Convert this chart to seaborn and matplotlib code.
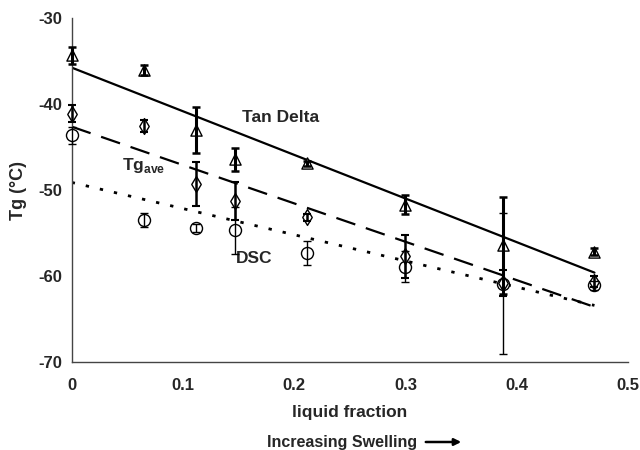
import matplotlib
matplotlib.use("Agg")
import matplotlib.pyplot as plt
import seaborn as sns
import numpy as np
import pandas as pd

# ---- data ----
liquid_fraction = [0.0, 0.065, 0.112, 0.147, 0.212, 0.300, 0.388, 0.470]
tan_delta = [-34.3, -36.0, -43.0, -46.4, -46.85, -51.7, -56.45, -57.2]
tan_delta_err = [1.0, 0.6, 2.7, 1.35, 0.3, 1.1, 5.6, 0.4]
tg_ave = [-41.1, -42.5, -49.3, -51.3, -53.15, -57.7, -60.85, -60.65]
tg_ave_err = [1.0, 0.7, 2.6, 2.2, 0.4, 2.5, 1.5, 0.6]
dsc = [-43.6, -53.5, -54.4, -54.7, -57.35, -58.9, -60.9, -61.1]
dsc_err = [1.0, 0.8, 0.5, 2.7, 1.4, 1.8, 8.2, 0.5]

x_ticks = [0, 0.1, 0.2, 0.3, 0.4, 0.5]
x_tick_labels = ["0", "0.1", "0.2", "0.3", "0.4", "0.5"]
y_ticks = [-70, -60, -50, -40, -30]
y_tick_labels = ["-70", "-60", "-50", "-40", "-30"]

sns.set_style("white")
plt.rcParams["font.family"] = ["Liberation Sans", "DejaVu Sans"]
plt.rcParams["mathtext.fontset"] = "custom"
plt.rcParams["mathtext.rm"] = "Liberation Sans:bold"
plt.rcParams["mathtext.bf"] = "Liberation Sans:bold"

fig = plt.figure(figsize=(6.4, 4.5), dpi=100)
ax = fig.add_axes([0.112, 0.196, 0.869, 0.763])

df = pd.DataFrame({"x": liquid_fraction, "tan": tan_delta, "ave": tg_ave, "dsc": dsc})

# trend lines (linear fits)
sns.regplot(data=df, x="x", y="tan", ax=ax, scatter=False, ci=None, truncate=True,
            line_kws=dict(color="black", lw=1.6, ls="-"))
sns.regplot(data=df, x="x", y="ave", ax=ax, scatter=False, ci=None, truncate=True,
            line_kws=dict(color="black", lw=1.6, ls=(0, (9, 5))))
sns.regplot(data=df, x="x", y="dsc", ax=ax, scatter=False, ci=None, truncate=True,
            line_kws=dict(color="black", lw=2.0, ls=(0, (1.2, 4))))

# markers
for col, mk, s, z in [("dsc", "o", 75, 4), ("ave", "d", 65, 4), ("tan", "^", 65, 5)]:
    sns.scatterplot(data=df, x="x", y=col, ax=ax, marker=mk, s=s, facecolor="white",
                    edgecolor="black", linewidth=1.0, zorder=z)
for coll in ax.collections:
    coll.set_clip_on(False)

# error bars (drawn over the markers, as in the reference)
for vals, errs, elw, ct in [(dsc, dsc_err, 1.0, 1.0), (tg_ave, tg_ave_err, 1.8, 1.5),
                             (tan_delta, tan_delta_err, 2.2, 1.8)]:
    eb = ax.errorbar(liquid_fraction, vals, yerr=errs, fmt="none", ecolor="black",
                     elinewidth=elw, capsize=3, capthick=ct, zorder=6)
    for art in list(eb.lines[1]) + list(eb.lines[2]):
        art.set_clip_on(False)

ax.set_xlim(0, 0.5)
ax.set_ylim(-70, -30)
ax.set_xticks(x_ticks)
ax.set_xticklabels(x_tick_labels, fontweight="bold", fontsize=12)
ax.set_yticks(y_ticks)
ax.set_yticklabels(y_tick_labels, fontweight="bold", fontsize=12)
ax.tick_params(axis="x", direction="in", length=3, width=0.8, color="#555555", pad=12)
ax.tick_params(axis="y", direction="out", length=3, width=0.8, color="#555555", pad=4)

for side in ["top", "right"]:
    ax.spines[side].set_visible(False)
for side in ["left", "bottom"]:
    ax.spines[side].set_color("#444444")
    ax.spines[side].set_linewidth(1.0)

ax.set_xlabel("liquid fraction", fontweight="bold", fontsize=12.5, labelpad=8)
ax.set_ylabel("Tg (°C)", fontweight="bold", fontsize=13, labelpad=8)

# annotations
ax.text(0.153, -41.5, "Tan Delta", fontweight="bold", fontsize=12.5, va="center", ha="left")
ax.text(0.0455, -47.1, r"Tg$_{\mathbf{ave}}$", fontweight="bold", fontsize=12.5, va="center", ha="left")
ax.text(0.148, -58.0, "DSC", fontweight="bold", fontsize=12.5, va="center", ha="left")

fig.text(267 / 640, 1 - 442 / 450, "Increasing Swelling", fontweight="bold", fontsize=11.5,
         ha="left", va="center")
fig.add_artist(matplotlib.patches.FancyArrowPatch(
    (423 / 640, 1 - 442 / 450), (464 / 640, 1 - 442 / 450), transform=fig.transFigure,
    arrowstyle="-|>", mutation_scale=10, color="black", lw=1.8))

fig.savefig("out.png", dpi=100)
